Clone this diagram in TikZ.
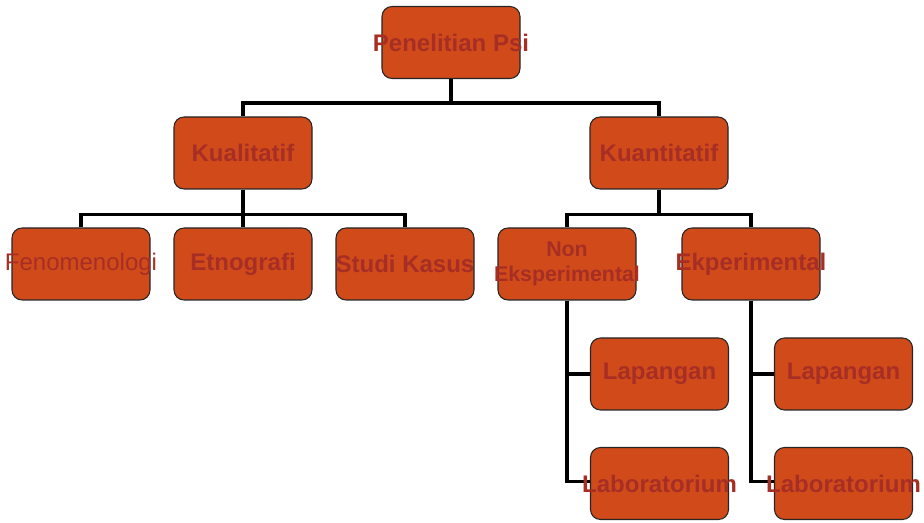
\documentclass[tikz,border=0pt]{standalone}
\usepackage{fontspec}
\setmainfont{Liberation Sans}
\usepackage{xcolor}
\usepackage{tikz}
\usetikzlibrary{backgrounds}

\definecolor{boxfill}{RGB}{209,74,25}
\definecolor{boxtext}{RGB}{166,46,36}
\newcommand{\fixw}[1]{\makebox[0pt]{#1}}

\tikzset{
    box/.style={draw=black!85, line width=0.8pt, fill=boxfill, rounded corners=7.5pt,
        minimum width=103.5pt, minimum height=54pt, inner sep=0pt, text=boxtext,
        font=\fontsize{18}{20}\selectfont\bfseries},
    conn/.style={line width=2.3pt, draw=black}
}

\begin{document}
\begin{tikzpicture}[x=0.75pt,y=0.75pt,yscale=-1,xscale=1]
    \useasboundingbox (0,0) rectangle (924,523);

    \node [box] (root) at (451,42.5) {\fixw{Penelitian Psi}};
    \node [box] (kual) at (243,153) {\fixw{Kualitatif}};
    \node [box] (kuan) at (659,153) {\fixw{Kuantitatif}};
    \node [box, font=\fontsize{18}{20}\selectfont] (feno) at (81,264) {\fixw{Fenomenologi}};
    \node [box] (etno) at (243,264) {\fixw{Etnografi}};
    \node [box] (studi) at (405,264) {\fixw{Studi Kasus}};
    \node [box, font=\fontsize{16}{18}\selectfont\bfseries] (nonek) at (567,264) {\fixw{\shortstack{Non\\[4pt]Eksperimental}}};
    \node [box] (ekper) at (751,264) {\fixw{Ekperimental}};
    \node [box] (lapA) at (659.5,374) {\fixw{Lapangan}};
    \node [box] (labA) at (659.5,483.5) {\fixw{Laboratorium}};
    \node [box] (lapB) at (843.5,374) {\fixw{Lapangan}};
    \node [box] (labB) at (843.5,483.5) {\fixw{Laboratorium}};

    \begin{scope}[on background layer]
    \draw [conn] (root.south) -- ++(0,24) -| (kual.north);
    \draw [conn] (root.south) -- ++(0,24) -| (kuan.north);
    \draw [conn] (kual.south) -- ++(0,25) -| (feno.north);
    \draw [conn] (kual.south) -- (etno.north);
    \draw [conn] (kual.south) -- ++(0,25) -| (studi.north);
    \draw [conn] (kuan.south) -- ++(0,25) -| (nonek.north);
    \draw [conn] (kuan.south) -- ++(0,25) -| (ekper.north);
    \draw [conn] (nonek.south) |- (lapA.west);
    \draw [conn] (nonek.south) |- ([yshift=-1.5]labA.west);
    \draw [conn] (ekper.south) |- (lapB.west);
    \draw [conn] (ekper.south) |- ([yshift=-1.5]labB.west);
    \end{scope}
\end{tikzpicture}
\end{document}
